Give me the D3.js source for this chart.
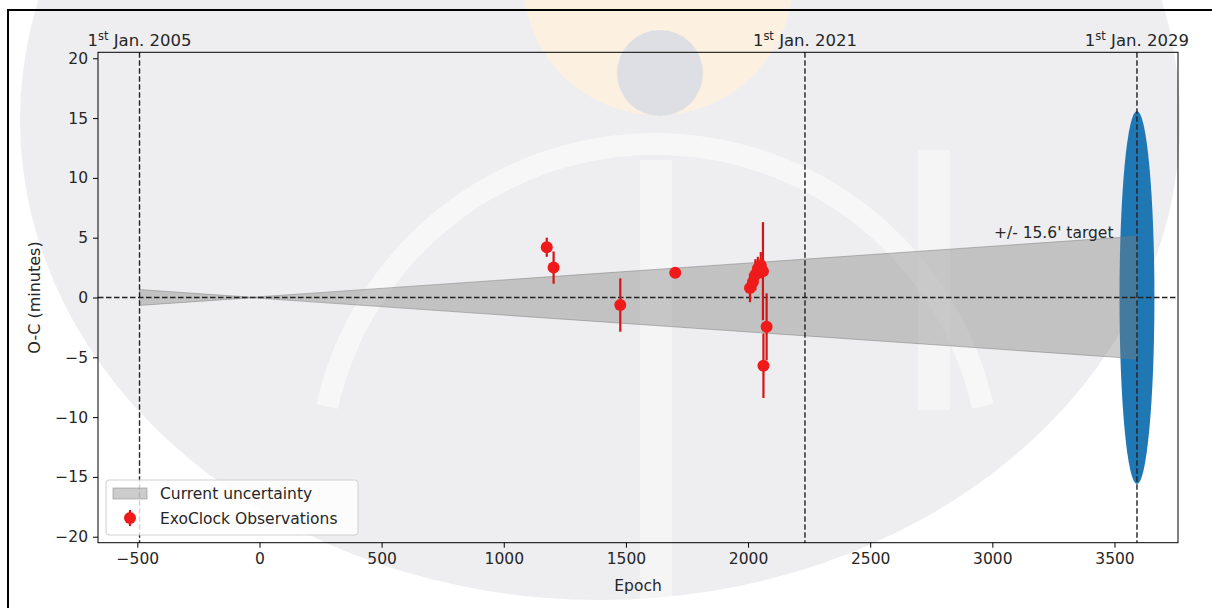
<!DOCTYPE html>
<html>
<head>
<meta charset="utf-8">
<script src="https://cdn.jsdelivr.net/npm/d3@7"></script>
<style>
  body { margin: 0; background: #fff; }
  text { font-family: "DejaVu Sans", sans-serif; fill: #262626; }
</style>
</head>
<body>
<script>
var W = 1212, H = 608;

// ExoClock observations (epoch, O-C minutes, error)
var epochs = [1176, 1204, 1477, 1702, 2008, 2020, 2030, 2040, 2052, 2061, 2063, 2076];
var ocValues = [4.2, 2.5, -0.63, 2.07, 0.8, 1.3, 1.9, 2.4, 2.7, 2.2, -5.7, -2.45];
var ocErrors = [0.8, 1.35, 2.23, 0.35, 1.2, 0.9, 1.3, 1.0, 1.1, 4.1, 2.7, 2.8];

// current uncertainty band (epoch, half width)
var bandEpochs = [-491, -30, 3592];
var bandHalf = [0.66, 0.02, 5.12];

// date markers
var dateEpochs = [-491, 2233, 3592];
var dateYears = ["2005", "2021", "2029"];

// target
var targetEpoch = 3592, targetHalf = 15.6, targetWidth = 143;

var xTicks = [-500, 0, 500, 1000, 1500, 2000, 2500, 3000, 3500];
var yTicks = [-20, -15, -10, -5, 0, 5, 10, 15, 20];

var pL = 98, pR = 1178, pT = 52.3, pB = 542.7;

var x = d3.scaleLinear().domain([-661, 3760]).range([pL, pR]);
var y = d3.scaleLinear().domain([-20.5, 20.5]).range([pB, pT]);

var svg = d3.select("body").append("svg")
    .attr("width", W)
    .attr("height", H);

// ---- watermark background ----
var bg = svg.append("g");
bg.append("rect").attr("width", W).attr("height", H).attr("fill", "#fff");
bg.append("ellipse")
    .attr("cx", 600).attr("cy", 120).attr("rx", 580).attr("ry", 480)
    .attr("fill", "#eeeef1");
bg.append("circle")
    .attr("cx", 658).attr("cy", -20).attr("r", 135)
    .attr("fill", "#fcf1e0");
bg.append("circle")
    .attr("cx", 660).attr("cy", 73).attr("r", 43)
    .attr("fill", "#dedfe4");
bg.append("path")
    .attr("d", d3.arc()({innerRadius: 325, outerRadius: 347, startAngle: -1.35, endAngle: 1.35}))
    .attr("transform", "translate(655,480)")
    .attr("fill", "#fff").attr("opacity", 0.5);
bg.append("rect").attr("x", 640).attr("y", 160).attr("width", 32).attr("height", 460)
    .attr("fill", "#fff").attr("opacity", 0.4);
bg.append("rect").attr("x", 918).attr("y", 150).attr("width", 32).attr("height", 260)
    .attr("fill", "#fff").attr("opacity", 0.4);

// frame
svg.append("rect")
    .attr("x", 8).attr("y", 10).attr("width", 1215).attr("height", 620)
    .attr("fill", "none").attr("stroke", "#000").attr("stroke-width", 2);

// ---- target ellipse ----
svg.append("ellipse")
    .attr("cx", x(targetEpoch))
    .attr("cy", y(0))
    .attr("rx", (x(targetEpoch + targetWidth / 2) - x(targetEpoch - targetWidth / 2)) / 2)
    .attr("ry", y(0) - y(targetHalf))
    .attr("fill", "#1f77b4");

// ---- uncertainty band ----
var bandData = bandEpochs.map(function(e, i) { return {e: e, h: bandHalf[i]}; });
var area = d3.area()
    .x(function(d) { return x(d.e); })
    .y0(function(d) { return y(-d.h); })
    .y1(function(d) { return y(d.h); });
svg.append("path")
    .datum(bandData)
    .attr("d", area)
    .attr("fill", "#808080")
    .attr("fill-opacity", 0.4)
    .attr("stroke", "#808080")
    .attr("stroke-opacity", 0.5)
    .attr("stroke-width", 1);

svg.append("text")
    .attr("x", x(3500) - 1)
    .attr("y", y(bandHalf[2]) + 2)
    .attr("text-anchor", "end")
    .attr("font-size", 15.5)
    .text("+/- 15.6' target");

// ---- dashed reference lines ----
svg.append("line")
    .attr("x1", pL).attr("x2", pR)
    .attr("y1", y(0)).attr("y2", y(0))
    .attr("stroke", "#222").attr("stroke-width", 1.4)
    .attr("stroke-dasharray", "5.5,2.5");

svg.selectAll(".vline")
    .data(dateEpochs)
    .enter().append("line")
    .attr("class", "vline")
    .attr("x1", function(d) { return x(d); })
    .attr("x2", function(d) { return x(d); })
    .attr("y1", pT).attr("y2", pB)
    .attr("stroke", "#222").attr("stroke-width", 1.4)
    .attr("stroke-dasharray", "5.5,2.5");

var dl = svg.selectAll(".dlabel")
    .data(dateEpochs)
    .enter().append("text")
    .attr("class", "dlabel")
    .attr("x", function(d) { return x(d); })
    .attr("y", 46)
    .attr("text-anchor", "middle")
    .attr("font-size", 16.5);
dl.append("tspan").text("1");
dl.append("tspan").attr("font-size", 11.5).attr("dy", -6).text("st");
dl.append("tspan").attr("dy", 6).text(function(d, i) { return " Jan. " + dateYears[i]; });

// ---- observations ----
var obs = epochs.map(function(e, i) { return {e: e, v: ocValues[i], err: ocErrors[i]}; });
svg.selectAll(".ebar")
    .data(obs)
    .enter().append("line")
    .attr("class", "ebar")
    .attr("x1", function(d) { return x(d.e); })
    .attr("x2", function(d) { return x(d.e); })
    .attr("y1", function(d) { return y(d.v - d.err); })
    .attr("y2", function(d) { return y(d.v + d.err); })
    .attr("stroke", "#d41515").attr("stroke-width", 2.2);
svg.selectAll(".pt")
    .data(obs)
    .enter().append("circle")
    .attr("class", "pt")
    .attr("cx", function(d) { return x(d.e); })
    .attr("cy", function(d) { return y(d.v); })
    .attr("r", 6)
    .attr("fill", "#f01a1a");

// ---- axes ----
var xAxis = svg.append("g")
    .attr("transform", "translate(0," + pB + ")")
    .call(d3.axisBottom(x).tickValues(xTicks).tickSize(5).tickPadding(5)
        .tickFormat(function(d) { return d < 0 ? "\u2212" + Math.abs(d) : d; }));
var yAxis = svg.append("g")
    .attr("transform", "translate(" + pL + ",0)")
    .call(d3.axisLeft(y).tickValues(yTicks).tickSize(5).tickPadding(5)
        .tickFormat(function(d) { return d < 0 ? "\u2212" + Math.abs(d) : d; }));
[xAxis, yAxis].forEach(function(a) {
  a.select(".domain").remove();
  a.selectAll("line").attr("stroke", "#000").attr("stroke-width", 1);
  a.selectAll("text").attr("font-size", 15.5).attr("font-family", "DejaVu Sans").attr("fill", "#262626");
});

svg.append("rect")
    .attr("x", pL).attr("y", pT)
    .attr("width", pR - pL).attr("height", pB - pT)
    .attr("fill", "none").attr("stroke", "#000").attr("stroke-width", 1);

svg.append("text")
    .attr("x", (pL + pR) / 2)
    .attr("y", 591)
    .attr("text-anchor", "middle")
    .attr("font-size", 15.5)
    .text("Epoch");

svg.append("text")
    .attr("transform", "translate(40," + y(0) + ") rotate(-90)")
    .attr("text-anchor", "middle")
    .attr("font-size", 16)
    .text("O-C (minutes)");

// ---- legend ----
var lg = svg.append("g");
lg.append("rect")
    .attr("x", 106).attr("y", 480).attr("width", 252).attr("height", 55)
    .attr("rx", 3)
    .attr("fill", "#fff").attr("fill-opacity", 0.8)
    .attr("stroke", "#d0d0d0");
lg.append("rect")
    .attr("x", 113).attr("y", 488).attr("width", 34).attr("height", 11)
    .attr("fill", "#808080").attr("fill-opacity", 0.4)
    .attr("stroke", "#808080").attr("stroke-opacity", 0.5);
lg.append("line")
    .attr("x1", 130).attr("x2", 130).attr("y1", 510).attr("y2", 526)
    .attr("stroke", "#d41515").attr("stroke-width", 2.2);
lg.append("circle")
    .attr("cx", 130).attr("cy", 518).attr("r", 6)
    .attr("fill", "#f01a1a");
lg.append("text").attr("x", 160).attr("y", 498.5).attr("font-size", 15.5).text("Current uncertainty");
lg.append("text").attr("x", 160).attr("y", 523.5).attr("font-size", 15.5).text("ExoClock Observations");
</script>
</body>
</html>
